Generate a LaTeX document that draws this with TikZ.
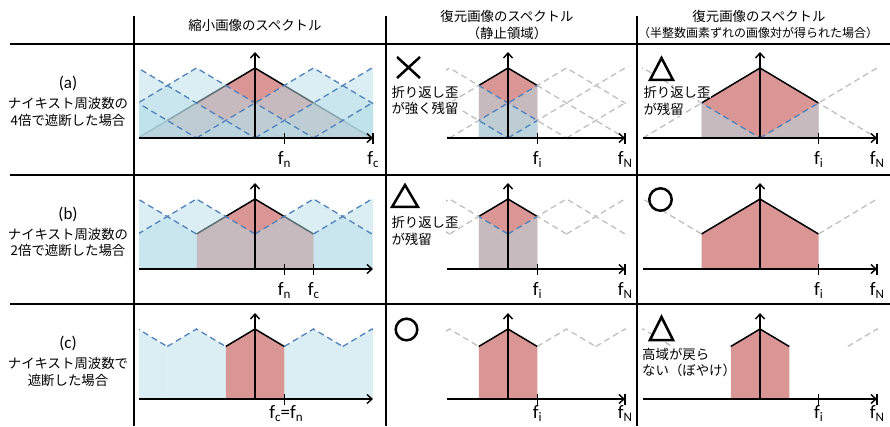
\documentclass[tikz,border=0pt]{standalone}
\usepackage{fontspec}
\setmainfont{Carlito}
\newfontfamily\jpfont{Noto Sans CJK JP}
\usetikzlibrary{arrows.meta}
\definecolor{redsp}{HTML}{D99694}
\definecolor{bluesp}{HTML}{B7DEE8}
\definecolor{dashblue}{HTML}{4F81BD}
\definecolor{dashgray}{HTML}{BFBFBF}
\newcommand{\spk}[2]{(#1-#2,{70-0.5983*(#2)}) -- (#1,70) -- (#1+#2,{70-0.5983*(#2)})}
\newcommand{\sblk}[2]{(#1-#2,0) -- \spk{#1}{#2} -- (#1+#2,0) -- cycle}
\newcommand{\fsub}[1]{f\raisebox{-3pt}{\fontsize{13}{13}\selectfont #1}}

\begin{document}
\begin{tikzpicture}[x=1pt,y=1pt,
  gridrule/.style={line width=2pt},
  redpart/.style={fill=redsp},
  bluepart/.style={fill=bluesp,fill opacity=0.5},
  bluedash/.style={draw=dashblue,line width=1.3pt,dash pattern=on 6pt off 4pt},
  graydash/.style={draw=dashgray,line width=1.3pt,dash pattern=on 6pt off 4pt},
  peakline/.style={line width=1.5pt,line join=round},
  faxis/.style={line width=1.4pt,-{Straight Barb[length=5pt,width=9pt]}},
  tickbar/.style={line width=1.4pt},
  flab/.style={anchor=north,inner sep=0pt,font=\fontsize{19}{19}\selectfont},
  plab/.style={inner sep=0pt,font=\fontsize{17}{17}\selectfont},
  jp/.style={inner sep=0pt,font=\jpfont\fontsize{13.4}{16.5}\selectfont},
  notebox/.style={jp,anchor=west,fill=white,inner sep=0.3pt},
  markshape/.style={line width=2.5pt,fill=white}]
\useasboundingbox (0,0) rectangle (890,426);

\begin{scope}[shift={(255,288)}]
  \clip (-116,0) rectangle (118,90);
  \fill[redpart] \sblk{0}{117};
  \draw[peakline] \spk{0}{117};
  \foreach \k in {-6,-5,-4,-3,-2,-1,1,2,3,4,5,6} \fill[bluepart] \sblk{\k*58.5}{117};
  \foreach \k in {-6,-5,-4,-3,-2,-1,1,2,3,4,5,6} \draw[bluedash] \spk{\k*58.5}{117};
\end{scope}
\begin{scope}[shift={(255,157)}]
  \clip (-116,0) rectangle (118,90);
  \fill[redpart] \sblk{0}{58.5};
  \draw[peakline] \spk{0}{58.5};
  \foreach \k in {-2,-1,1,2} \fill[bluepart] \sblk{\k*58.5}{58.5};
  \foreach \k in {-2,-1,1,2} \draw[bluedash] \spk{\k*58.5}{58.5};
\end{scope}
\begin{scope}[shift={(255,27)}]
  \clip (-116,0) rectangle (118,90);
  \fill[redpart] \sblk{0}{29.25};
  \draw[peakline] \spk{0}{29.25};
  \foreach \k in {-4,-3,-2,-1,1,2,3,4} \fill[bluepart] \sblk{\k*58.5}{29.25};
  \foreach \k in {-4,-3,-2,-1,1,2,3,4} \draw[bluedash] \spk{\k*58.5}{29.25};
\end{scope}

\begin{scope}[shift={(508,288)}]
  \begin{scope}
    \clip (-29.25,0) rectangle (29.25,90);
    \fill[redpart] \sblk{0}{117};
    \draw[peakline] \spk{0}{117};
    \foreach \k in {-3,-2,-1,1,2,3} \fill[bluepart] \sblk{\k*58.5}{117};
    \foreach \k in {-3,-2,-1,1,2,3} \draw[bluedash] \spk{\k*58.5}{117};
  \end{scope}
  \clip (-62,0) rectangle (-29.25,90) (29.25,0) rectangle (118,90);
  \foreach \k in {-3,...,3} \draw[graydash] \spk{\k*58.5}{117};
\end{scope}
\begin{scope}[shift={(508,157)}]
  \begin{scope}
    \clip (-29.25,0) rectangle (29.25,90);
    \fill[redpart] \sblk{0}{58.5};
    \draw[peakline] \spk{0}{58.5};
    \foreach \k in {-2,-1,1,2} \fill[bluepart] \sblk{\k*58.5}{58.5};
    \foreach \k in {-2,-1,1,2} \draw[bluedash] \spk{\k*58.5}{58.5};
  \end{scope}
  \clip (-62,0) rectangle (-29.25,90) (29.25,0) rectangle (118,90);
  \foreach \k in {-2,...,2} \draw[graydash] \spk{\k*58.5}{58.5};
\end{scope}
\begin{scope}[shift={(508,27)}]
  \fill[redpart] \sblk{0}{29.25};
  \draw[peakline] \spk{0}{29.25};
  \clip (-62,0) rectangle (-29.25,90) (29.25,0) rectangle (118,90);
  \foreach \k in {-2,-1,1,2} \draw[graydash] \spk{\k*58.5}{29.25};
\end{scope}

\begin{scope}[shift={(760,288)}]
  \begin{scope}
    \clip (-58.5,0) rectangle (58.5,90);
    \fill[redpart] \sblk{0}{117};
    \draw[peakline] \spk{0}{117};
    \foreach \k in {-1,1} \fill[bluepart] \sblk{\k*117}{117};
    \foreach \k in {-1,1} \draw[bluedash] \spk{\k*117}{117};
  \end{scope}
  \clip (-118,0) rectangle (-58.5,90) (58.5,0) rectangle (118,90);
  \foreach \k in {-1,0,1} \draw[graydash] \spk{\k*117}{117};
\end{scope}
\begin{scope}[shift={(760,157)}]
  \fill[redpart] \sblk{0}{58.5};
  \draw[peakline] \spk{0}{58.5};
  \clip (-118,0) rectangle (-58.5,90) (58.5,0) rectangle (118,90);
  \foreach \k in {-1,1} \draw[graydash] \spk{\k*117}{58.5};
\end{scope}
\begin{scope}[shift={(760,27)}]
  \fill[redpart] \sblk{0}{29.25};
  \draw[peakline] \spk{0}{29.25};
  \clip (-118,0) rectangle (-29.25,90) (29.25,0) rectangle (118,90);
  \foreach \k in {-1,1} \draw[graydash] \spk{\k*117}{29.25};
\end{scope}

\begin{scope}[shift={(255,288)}]
  \draw[faxis] (-116,0) -- (118,0);
  \draw[faxis] (0,0) -- (0,86);
  \draw[tickbar] (29.25,5) -- (29.25,-6) (118,5) -- (118,-6);
  \node[flab] (fn1a) at (29.25,-13) {\fsub{n}};
  \node[flab] (fc1a) at (118,-13) {\fsub{c}};
\end{scope}
\begin{scope}[shift={(255,157)}]
  \draw[faxis] (-116,0) -- (118,0);
  \draw[faxis] (0,0) -- (0,86);
  \draw[tickbar] (29.25,5) -- (29.25,-6) (58.5,5) -- (58.5,-6);
  \node[flab] (fn1b) at (29.25,-13) {\fsub{n}};
  \node[flab] (fc1b) at (58.5,-13) {\fsub{c}};
\end{scope}
\begin{scope}[shift={(255,27)}]
  \draw[faxis] (-116,0) -- (118,0);
  \draw[faxis] (0,0) -- (0,86);
  \draw[tickbar] (29.25,5) -- (29.25,-6);
  \node[flab] (fcn1c) at (31,-6.5) {\fsub{c}=\fsub{n}};
\end{scope}
\foreach \y/\r/\d in {288/a/-13,157/b/-13,27/c/-6.5}{
  \begin{scope}[shift={(508,\y)}]
    \draw[faxis] (-61,0) -- (117,0);
    \draw[faxis] (0,0) -- (0,86);
    \draw[tickbar] (29.25,5) -- (29.25,-6) (117,5) -- (117,-6);
    \node[flab] (fi2\r) at (29.25,\d) {\fsub{i}};
    \node[flab] (fN2\r) at (117,\d) {\fsub{N}};
  \end{scope}
  \begin{scope}[shift={(760,\y)}]
    \draw[faxis] (-117,0) -- (117,0);
    \draw[faxis] (0,0) -- (0,86);
    \draw[tickbar] (58.5,5) -- (58.5,-6) (117,5) -- (117,-6);
    \node[flab] (fi3\r) at (58.5,\d) {\fsub{i}};
    \node[flab] (fN3\r) at (117,\d) {\fsub{N}};
  \end{scope}
}

\draw[gridrule] (10,382) -- (890,382);
\draw[gridrule] (10,251) -- (890,251);
\draw[gridrule] (10,122) -- (890,122);
\foreach \x in {134,386,637} \draw[gridrule] (\x,410) -- (\x,0);

\node[jp] (hd1) at (255,401) {縮小画像のスペクトル};
\node[jp] (hd2) at (507,410) {復元画像のスペクトル};
\node[jp] (hd2s) at (507,393) {（静止領域）};
\node[jp] (hd3) at (759,410) {復元画像のスペクトル};
\node[jp,font=\jpfont\fontsize{12}{12}\selectfont] (hd3s) at (758,393) {（半整数画素ずれの画像対が得られた場合）};

\node[plab] (rowa) at (68,343) {(a)};
\node[jp,align=center] (rowatxt) at (68,314) {ナイキスト周波数の\\4倍で遮断した場合};
\node[plab] (rowb) at (68,212) {(b)};
\node[jp,align=center] (rowbtxt) at (68,183.5) {ナイキスト周波数の\\2倍で遮断した場合};
\node[plab] (rowc) at (68,83) {(c)};
\node[jp,align=center] (rowctxt) at (68,54) {ナイキスト周波数で\\遮断した場合};

\draw[markshape] (397,348) -- (420,369) (397,369) -- (420,348);
\draw[markshape] (392,219) -- (405,241) -- (418,219) -- cycle;
\draw[markshape] (650,346) -- (661.5,368) -- (673,346) -- cycle;
\draw[markshape] (660.5,226.5) circle[radius=11.2];
\draw[markshape] (406.5,96.5) circle[radius=10.8];
\draw[markshape] (650,86) -- (661.5,109) -- (673,86) -- cycle;

\node[notebox] (alias2a) at (391,334) {折り返し歪};
\node[notebox] (alias2a2) at (391,318) {が強く残留};
\node[notebox] (alias3a) at (643,334) {折り返し歪};
\node[notebox] (alias3a2) at (643,317) {が残留};
\node[notebox] (alias2b) at (391,204) {折り返し歪};
\node[notebox] (alias2b2) at (391,187) {が残留};
\node[jp,anchor=west] (blur3c) at (642,72) {高域が戻ら};
\node[jp,anchor=west] (blur3c2) at (642,56) {ない（ぼやけ）};
\end{tikzpicture}
\end{document}
